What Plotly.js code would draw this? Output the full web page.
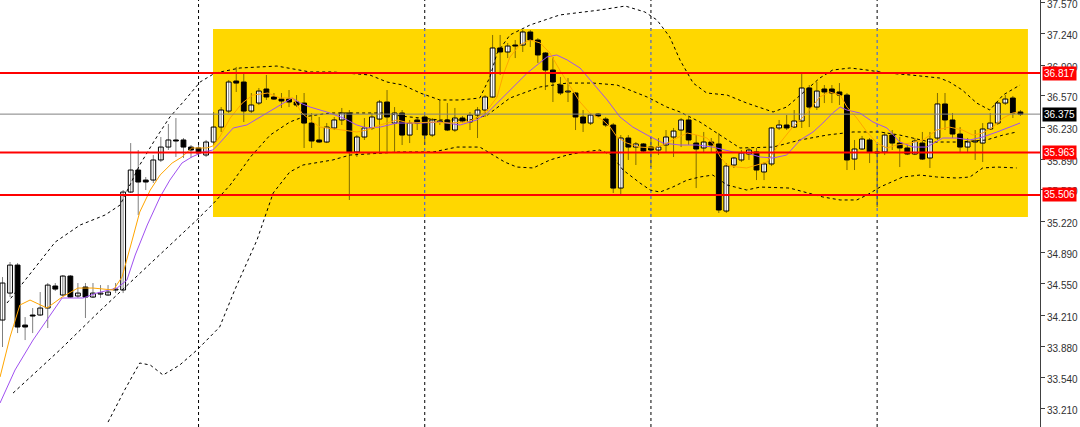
<!DOCTYPE html>
<html><head><meta charset="utf-8">
<script src="https://cdn.plot.ly/plotly-3.0.1.min.js"></script>
<style>html,body{margin:0;padding:0;background:#fff}#chart{width:1080px;height:427px}</style>
</head><body><div id="chart"></div>
<script>
// ---- candle data (4H bars, index 0..135) ----
const openP = [34.161,34.451,34.752,34.107,34.215,34.215,34.290,34.527,34.430,34.634,
34.419,34.516,34.408,34.440,34.430,34.484,34.484,35.537,35.774,35.666,
35.666,35.882,36.021,36.097,36.097,36.021,36.011,35.935,36.075,36.236,
36.408,36.731,36.720,36.408,36.494,36.645,36.559,36.537,36.537,36.505,
36.494,36.279,36.097,36.075,36.226,36.312,36.387,35.968,36.129,36.226,
36.322,36.505,36.279,36.387,36.150,36.312,36.344,36.150,36.290,36.312,
36.204,36.333,36.290,36.365,36.419,36.559,37.086,37.043,37.118,37.118,
37.258,37.172,37.032,36.849,36.688,36.613,36.602,36.344,36.279,36.376,
36.322,36.258,35.580,36.118,36.021,36.054,36.021,35.989,36.043,36.129,
36.204,36.312,36.064,36.011,36.075,36.054,35.333,35.828,35.882,35.946,
35.968,35.753,35.839,36.226,36.258,36.236,36.301,36.656,36.451,36.645,
36.645,36.613,36.580,35.892,36.000,36.097,35.968,35.968,36.150,36.064,
36.011,35.946,36.064,35.903,36.118,36.484,36.312,36.161,36.021,36.075,
36.064,36.215,36.279,36.494,36.548,36.398];
const highP = [34.623,34.785,34.774,34.193,34.290,34.462,34.559,34.559,34.645,34.645,
34.559,34.559,34.559,34.537,34.537,34.559,35.559,36.064,35.989,35.699,
35.935,36.129,36.269,36.333,36.118,36.043,36.043,36.097,36.398,36.451,
36.742,36.882,36.817,36.602,36.656,36.796,36.602,36.602,36.634,36.580,
36.602,36.387,36.344,36.279,36.344,36.441,36.419,36.150,36.333,36.387,
36.527,36.634,36.451,36.419,36.312,36.333,36.365,36.333,36.527,36.494,
36.441,36.355,36.398,36.451,36.580,37.226,37.226,37.140,37.172,37.279,
37.279,37.193,37.043,36.989,36.774,36.763,36.613,36.419,36.387,36.387,
36.344,36.279,36.150,36.150,36.075,36.064,36.129,36.118,36.204,36.226,
36.333,36.344,36.150,36.183,36.118,36.172,35.849,35.914,35.989,36.011,
36.011,35.860,36.236,36.312,36.365,36.419,36.806,36.688,36.720,36.688,
36.688,36.709,36.602,36.097,36.140,36.118,36.054,36.183,36.204,36.129,
36.043,36.118,36.183,36.183,36.602,36.602,36.387,36.236,36.118,36.204,
36.279,36.387,36.505,36.580,36.570,36.419];
const lowP = [33.871,34.408,34.021,33.946,34.021,34.204,34.075,34.473,34.419,34.398,
34.398,34.183,34.398,34.398,34.419,34.451,34.451,35.527,35.290,35.559,
35.634,35.860,35.989,35.914,35.903,35.903,35.914,35.914,36.043,36.183,
36.387,36.613,36.290,36.387,36.473,36.527,36.527,36.441,36.451,36.451,
36.011,36.011,36.064,36.064,36.204,36.258,35.452,35.914,36.097,36.204,
35.968,35.968,35.968,36.043,36.064,36.204,36.043,36.129,36.258,36.193,
36.183,36.279,36.204,36.118,36.344,36.548,36.796,36.978,36.978,37.043,
37.097,36.925,36.634,36.505,36.580,36.505,36.204,36.183,36.258,36.344,
36.236,35.527,35.505,35.882,35.828,35.968,35.806,35.935,35.968,35.914,
36.021,36.043,35.580,35.968,35.968,35.312,35.312,35.796,35.860,35.882,
35.666,35.666,35.817,36.204,36.204,36.226,36.226,36.236,36.419,36.494,
36.494,36.473,35.774,35.774,35.989,35.849,35.376,35.935,35.989,35.806,
35.935,35.935,35.882,35.796,36.097,36.204,36.118,35.968,35.968,35.882,
35.860,36.204,36.258,36.473,36.333,36.355];
const closeP = [34.559,34.752,34.086,34.086,34.204,34.290,34.537,34.494,34.634,34.408,
34.451,34.408,34.451,34.451,34.462,34.494,35.537,35.774,35.645,35.645,
35.882,36.021,36.097,36.086,36.021,35.989,35.957,36.075,36.236,36.419,
36.720,36.709,36.408,36.473,36.623,36.559,36.537,36.516,36.505,36.473,
36.279,36.086,36.075,36.236,36.312,36.387,35.968,36.129,36.226,36.344,
36.505,36.344,36.387,36.150,36.279,36.279,36.150,36.312,36.301,36.204,
36.333,36.301,36.365,36.419,36.559,37.086,37.043,37.107,37.107,37.258,
37.172,37.011,36.849,36.720,36.602,36.623,36.344,36.279,36.365,36.355,
36.258,35.580,36.118,36.021,36.054,35.978,35.989,36.021,36.129,36.193,
36.312,36.097,36.000,36.075,36.043,35.344,35.817,35.903,35.957,35.989,
35.774,35.839,36.226,36.258,36.226,36.301,36.656,36.451,36.623,36.613,
36.602,36.580,35.882,36.000,36.107,35.968,35.957,36.150,36.064,36.011,
35.946,36.086,35.892,36.107,36.484,36.312,36.161,36.021,36.075,36.086,
36.215,36.279,36.494,36.537,36.387,36.375];

// ---- indicator lines: [bar index, price] ----
const fastMA = [[-0.33,33.548],[1.0,33.978],[2.3,34.322],[3.65,34.376],[5.9,34.290],[7.9,34.408],[10.0,34.505],[12.0,34.505],[14.7,34.484],[15.85,34.623],[17.2,35.021],[18.2,35.322],[19.6,35.559],[20.9,35.720],[22.5,35.849],[23.8,35.914],[25.1,36.011],[27.1,36.011],[27.9,36.032],[28.8,36.129],[30.2,36.333],[31.8,36.494],[33.2,36.580],[35.2,36.602],[36.8,36.548],[38.5,36.548],[39.7,36.387],[40.8,36.312],[42.1,36.236],[45.2,36.204],[47.0,36.183],[48.3,36.204],[50.1,36.258],[52.3,36.312],[54.0,36.279],[57.1,36.290],[59.35,36.279],[61.6,36.290],[62.9,36.333],[64.3,36.419],[65.6,36.559],[66.4,36.796],[67.3,36.989],[68.6,37.118],[69.96,37.172],[71.3,37.140],[72.6,37.032],[73.9,36.849],[75.3,36.667],[76.6,36.505],[77.9,36.387],[79.6,36.312],[80.6,36.236],[81.5,36.129],[82.8,36.064],[84.55,36.021],[86.3,36.011],[87.6,36.043],[88.9,36.097],[90.8,36.172],[92.1,36.150],[93.4,36.118],[94.2,36.064],[95.2,35.914],[96.1,35.828],[97.4,35.806],[98.7,35.796],[100.1,35.828],[101.4,35.860],[103.1,36.064],[104.8,36.236],[106.7,36.387],[108.4,36.559],[109.7,36.613],[111.1,36.580],[112.0,36.451],[113.3,36.333],[114.65,36.183],[115.96,36.064],[117.3,36.011],[118.6,36.043],[120.4,36.064],[122.1,36.097],[123.9,36.204],[125.6,36.236],[127.3,36.204],[128.7,36.150],[130.0,36.172],[131.35,36.236],[132.7,36.333],[134.0,36.387],[134.7,36.398]];
const slowMA = [[-0.33,33.269],[1.66,33.624],[4.05,33.946],[6.3,34.215],[7.9,34.398],[10.7,34.398],[12.5,34.451],[15.2,34.505],[16.5,34.591],[17.6,34.860],[19.2,35.183],[20.9,35.484],[22.2,35.666],[23.8,35.849],[25.1,35.914],[26.6,35.968],[27.9,35.989],[28.8,36.064],[30.6,36.226],[32.4,36.258],[34.2,36.344],[36.4,36.451],[38.4,36.548],[39.5,36.494],[40.8,36.451],[43.0,36.398],[45.2,36.333],[47.0,36.258],[48.3,36.226],[50.1,36.236],[52.3,36.279],[55.4,36.279],[58.0,36.290],[60.7,36.258],[62.9,36.312],[64.3,36.387],[66.0,36.527],[67.7,36.667],[69.6,36.817],[70.9,36.903],[72.2,36.989],[73.5,37.011],[74.9,36.957],[76.6,36.871],[78.3,36.709],[80.2,36.527],[81.9,36.344],[83.6,36.236],[85.5,36.150],[87.6,36.064],[89.85,36.043],[92.1,36.043],[94.2,36.021],[96.9,35.968],[98.7,35.957],[100.5,35.914],[102.2,35.903],[104.0,35.935],[105.8,36.097],[107.5,36.183],[108.8,36.279],[110.1,36.387],[111.1,36.451],[112.0,36.419],[113.7,36.387],[115.45,36.290],[117.3,36.226],[119.0,36.075],[120.8,36.021],[122.6,36.021],[124.7,36.118],[126.55,36.118],[128.3,36.097],[130.0,36.129],[131.9,36.183],[133.6,36.236],[134.95,36.279]];
const bbUpper = [[0.6,34.344],[3.65,34.656],[7.0,35.000],[10.3,35.183],[13.6,35.290],[15.6,35.398],[18.2,35.828],[20.2,36.097],[22.2,36.344],[24.2,36.527],[26.2,36.720],[28.2,36.817],[31.5,36.871],[36.4,36.892],[40.8,36.828],[43.8,36.828],[48.7,36.796],[51.0,36.720],[53.1,36.688],[55.4,36.602],[58.0,36.527],[60.7,36.527],[63.3,36.548],[64.65,36.774],[65.6,37.032],[67.3,37.226],[69.96,37.333],[73.9,37.441],[79.2,37.494],[82.6,37.537],[85.2,37.473],[86.8,37.387],[88.5,37.204],[89.85,36.957],[91.6,36.709],[93.4,36.602],[96.1,36.580],[98.7,36.494],[102.2,36.398],[104.0,36.451],[105.8,36.580],[108.4,36.763],[110.1,36.849],[112.4,36.871],[114.65,36.849],[117.3,36.817],[120.4,36.796],[124.3,36.763],[125.6,36.720],[127.3,36.634],[129.2,36.494],[130.95,36.419],[132.7,36.580],[134.95,36.688]];
const bbMiddle = [[1.4,33.376],[7.6,33.839],[12.9,34.258],[15.6,34.462],[22.6,35.000],[25.9,35.247],[27.9,35.409],[30.2,35.613],[33.0,35.925],[35.5,36.150],[38.1,36.290],[39.85,36.344],[43.4,36.387],[47.0,36.387],[51.0,36.387],[52.7,36.355],[58.0,36.312],[62.0,36.312],[64.3,36.365],[67.3,36.548],[71.3,36.667],[74.9,36.709],[78.3,36.709],[81.5,36.688],[85.5,36.559],[88.1,36.451],[89.85,36.398],[92.5,36.290],[95.2,36.150],[97.8,36.011],[102.2,36.021],[105.8,36.097],[109.35,36.150],[112.8,36.183],[116.4,36.183],[119.0,36.150],[123.0,36.075],[126.9,36.075],[130.5,36.097],[132.7,36.150],[134.5,36.183]];
const bbLower = [[14.0,33.064],[16.2,33.409],[18.2,33.699],[19.6,33.677],[21.3,33.570],[23.5,33.677],[25.8,33.839],[28.8,34.086],[30.8,34.484],[32.4,34.785],[33.75,35.021],[35.9,35.527],[38.1,35.753],[39.85,35.828],[43.8,35.882],[46.1,35.935],[52.7,35.968],[57.1,35.968],[60.3,36.021],[63.3,36.021],[64.65,35.957],[66.6,35.860],[68.2,35.806],[70.4,35.796],[72.6,35.882],[74.9,35.935],[77.0,35.968],[79.2,35.989],[80.8,35.935],[82.3,35.774],[84.55,35.634],[85.9,35.559],[87.2,35.537],[88.9,35.591],[90.8,35.666],[92.5,35.699],[94.2,35.720],[96.1,35.613],[98.7,35.559],[100.5,35.591],[104.4,35.580],[106.7,35.527],[108.8,35.484],[111.1,35.452],[113.3,35.452],[114.65,35.505],[116.4,35.591],[119.4,35.699],[121.7,35.720],[123.9,35.699],[126.55,35.688],[128.3,35.699],[130.0,35.796],[131.9,35.806],[134.5,35.796]];

// ---- levels, zone, separators, axis ticks ----
const resistLevels = [36.817, 35.963, 35.506];
const bidPrice = 36.375;
const zoneStart = 27.92, zoneEnd = 136.0, zoneLow = 35.269, zoneHigh = 37.290;
const separatorIdx = [26, 56, 86, 116];
const yTicks = [37.570,37.240,36.900,36.570,36.230,35.890,35.560,35.220,34.890,34.550,34.210,33.880,33.540,33.210];

// ---- build traces ----
const idx = openP.map((_, i) => i);
const wx = [], wy = [];
idx.forEach(i => { wx.push(i, i, null); wy.push(lowP[i], highP[i], null); });
const bodyBase = idx.map(i => Math.min(openP[i], closeP[i]));
const bodyLen = idx.map(i => Math.max(Math.abs(closeP[i] - openP[i]), 0.006));
const bodyColor = idx.map(i => closeP[i] >= openP[i] ? '#ffffff' : '#000000');

function line(pts, color, dash) {
  return {type:'scatter', mode:'lines', x:pts.map(p=>p[0]), y:pts.map(p=>p[1]),
    line:{color:color, width:1, dash:dash||'solid'}, hoverinfo:'skip'};
}

const traces = [
  {type:'scatter', mode:'lines', x:wx, y:wy, line:{color:'rgba(0,0,0,0.5)', width:1}, hoverinfo:'skip'},
  {type:'bar', x:idx, y:bodyLen, base:bodyBase, width:0.64,
   marker:{color:bodyColor, line:{color:'#000', width:1}}, hoverinfo:'skip'},
  line(bbUpper, '#000', '3px,3px'),
  line(bbMiddle, '#000', '3px,3px'),
  line(bbLower, '#000', '3px,3px'),
  line(slowMA, '#a050f0'),
  line(fastMA, '#ffa500')
];

const shapes = [
  {type:'rect', xref:'x', yref:'y', x0:zoneStart, x1:zoneEnd, y0:zoneLow, y1:zoneHigh,
   fillcolor:'#ffd700', line:{width:0}, layer:'below'}
];
separatorIdx.forEach(s => {
  shapes.push({type:'line', xref:'x', yref:'paper', x0:s, x1:s, y0:0, y1:1,
    line:{color:'#000', width:1, dash:'3px,3px'}, layer:'below'});
  if (s >= zoneStart && s <= zoneEnd) {
    shapes.push({type:'line', xref:'x', yref:'y', x0:s, x1:s, y0:zoneLow, y1:zoneHigh,
      line:{color:'#2850ff', width:1, dash:'3px,3px'}, layer:'below'});
  }
});
shapes.push({type:'line', xref:'paper', yref:'y', x0:0, x1:1, y0:bidPrice, y1:bidPrice,
  line:{color:'#808080', width:1}, layer:'above'});
resistLevels.forEach(v => shapes.push({type:'line', xref:'paper', yref:'y', x0:0, x1:1, y0:v, y1:v,
  line:{color:'#ff0000', width:2}, layer:'above'}));

const annotations = [];
resistLevels.forEach(v => annotations.push({xref:'paper', yref:'y', x:1, y:v, xanchor:'left', xshift:2,
  text:v.toFixed(3), showarrow:false, bgcolor:'#ff0000', borderpad:1,
  font:{family:'Liberation Sans, Arial, sans-serif', size:10, color:'#ffffff'}}));
annotations.push({xref:'paper', yref:'y', x:1, y:bidPrice, xanchor:'left', xshift:2,
  text:bidPrice.toFixed(3), showarrow:false, bgcolor:'#000000', borderpad:1,
  font:{family:'Liberation Sans, Arial, sans-serif', size:10, color:'#ffffff'}});

const layout = {
  width:1080, height:427,
  margin:{l:0, r:40, t:0, b:0, pad:0},
  paper_bgcolor:'#ffffff', plot_bgcolor:'#ffffff',
  showlegend:false, bargap:0,
  xaxis:{range:[-0.332, 137.6], visible:false, fixedrange:true},
  yaxis:{range:[33.011, 37.602], side:'right', tickvals:yTicks, ticktext:yTicks.map(v=>v.toFixed(3)),
    showgrid:false, zeroline:false, showline:true, linecolor:'#404040', linewidth:1,
    ticks:'outside', ticklen:4, tickcolor:'#404040', ticklabeloverflow:'allow', ticklabelshift:2,
    tickfont:{family:'Liberation Sans, Arial, sans-serif', size:10, color:'#303030'}},
  shapes:shapes, annotations:annotations
};

Plotly.newPlot('chart', traces, layout, {staticPlot:true, displayModeBar:false});
</script>
</body></html>
